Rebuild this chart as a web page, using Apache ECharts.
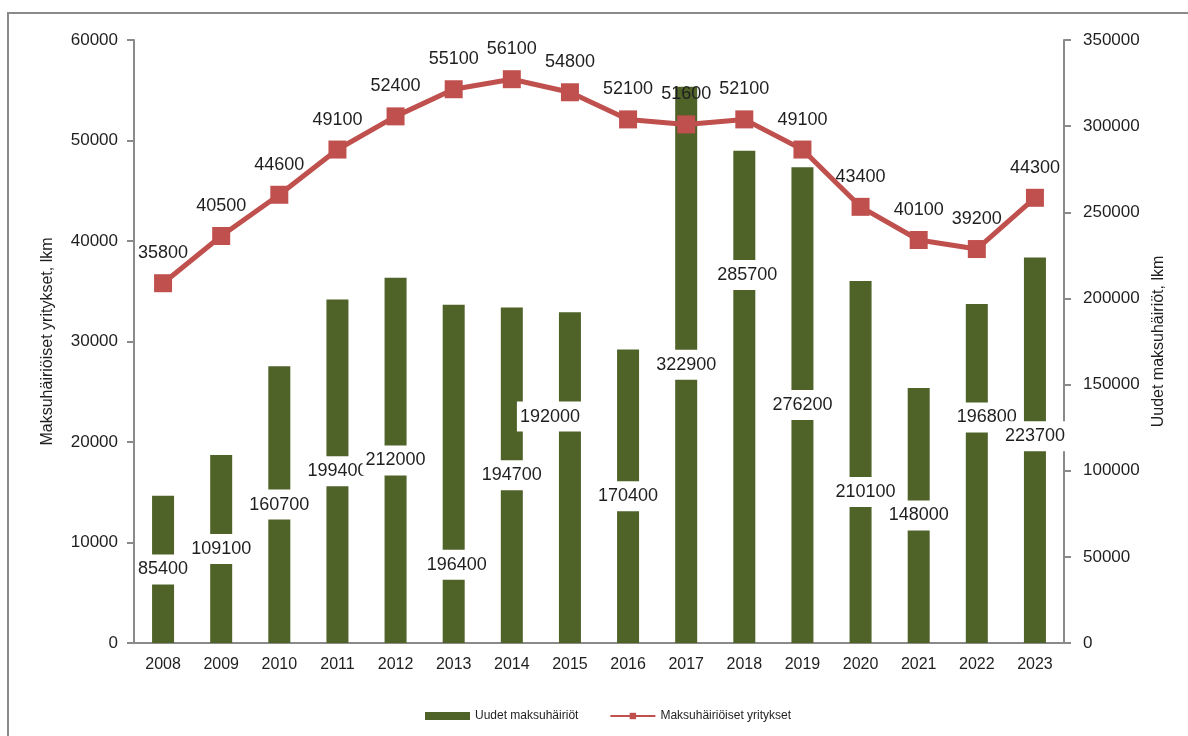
<!DOCTYPE html>
<html lang="fi">
<head>
<meta charset="UTF-8">
<title>Maksuhäiriöt</title>
<script src="https://cdn.jsdelivr.net/npm/echarts@6/dist/echarts.min.js"></script>
<style>
  body { margin: 0; background: #fff; overflow: hidden; }
  #chart { width: 1188px; height: 736px; }
</style>
</head>
<body>
<div id="chart"></div>
<script>
// vuodet
const years = ['2008', '2009', '2010', '2011', '2012', '2013', '2014', '2015',
  '2016', '2017', '2018', '2019', '2020', '2021', '2022', '2023']

// Uudet maksuhäiriöt (oikea akseli)
const newDefaults = [85400, 109100, 160700, 199400, 212000, 196400, 194700, 192000,
  170400, 322900, 285700, 276200, 210100, 148000, 196800, 223700]

// Maksuhäiriöiset yritykset (vasen akseli)
const firms = [35800, 40500, 44600, 49100, 52400, 55100, 56100, 54800,
  52100, 51600, 52100, 49100, 43400, 40100, 39200, 44300]

const leftTicks = { min: 0, max: 60000, interval: 10000 }
const rightTicks = { min: 0, max: 350000, interval: 50000 }

// muutama palkin selite on siirretty käsin alkuperäisessä kuvassa
const barLabelNudge = {
  '2013': [3, 91],
  '2015': [-20, -61],
  '2018': [3, -122],
  '2020': [5, 30],
  '2022': [10, -56],
  '2023': [0, -14]
}

const FONT = '"Liberation Sans", Arial, sans-serif'
const TEXT = '#1f1f1f'
const AXIS = '#8a8a8a'
const GREEN = '#4f6228'
const RED = '#c0504d'

const plain = v => String(v)

const barData = newDefaults.map((v, i) => {
  const n = barLabelNudge[years[i]]
  return n ? { value: v, label: { offset: n } } : v
})

const chart = echarts.init(document.getElementById('chart'), null, { renderer: 'canvas' })

chart.setOption({
  animation: false,
  textStyle: { fontFamily: FONT },
  graphic: [{
    type: 'rect',
    shape: { x: 8, y: 13, width: 1300, height: 900 },
    style: { fill: 'none', stroke: AXIS, lineWidth: 2 },
    silent: true
  }],
  grid: { left: 134, right: 124, top: 40, bottom: 93 },
  legend: {
    left: 420,
    top: 705,
    itemWidth: 45,
    itemHeight: 8,
    itemGap: 31,
    textStyle: { fontFamily: FONT, fontSize: 12, color: TEXT },
    data: [
      { name: 'Uudet maksuhäiriöt', icon: 'rect' },
      { name: 'Maksuhäiriöiset yritykset' }
    ]
  },
  xAxis: {
    type: 'category',
    data: years,
    axisLine: { lineStyle: { color: AXIS, width: 2 } },
    axisTick: { length: 7, lineStyle: { color: AXIS, width: 2 } },
    axisLabel: { margin: 14, fontSize: 16, color: TEXT, fontFamily: FONT }
  },
  yAxis: [{
    type: 'value',
    position: 'left',
    min: leftTicks.min,
    max: leftTicks.max,
    interval: leftTicks.interval,
    name: 'Maksuhäiriöiset yritykset, lkm',
    nameLocation: 'middle',
    nameGap: 78,
    nameRotate: 90,
    nameTextStyle: { fontSize: 16, color: TEXT, fontFamily: FONT },
    splitLine: { show: false },
    axisLine: { show: true, lineStyle: { color: AXIS, width: 2 } },
    axisTick: { show: true, length: 7, lineStyle: { color: AXIS, width: 2 } },
    axisLabel: { margin: 16, fontSize: 17, color: TEXT, fontFamily: FONT, formatter: plain }
  }, {
    type: 'value',
    position: 'right',
    min: rightTicks.min,
    max: rightTicks.max,
    interval: rightTicks.interval,
    name: 'Uudet maksuhäiriöt, lkm',
    nameLocation: 'middle',
    nameGap: 86,
    nameRotate: 90,
    nameTextStyle: { fontSize: 16, color: TEXT, fontFamily: FONT },
    splitLine: { show: false },
    axisLine: { show: true, lineStyle: { color: AXIS, width: 2 } },
    axisTick: { show: true, length: 7, lineStyle: { color: AXIS, width: 2 } },
    axisLabel: { margin: 19, fontSize: 17, color: TEXT, fontFamily: FONT, formatter: plain }
  }],
  series: [{
    name: 'Uudet maksuhäiriöt',
    type: 'bar',
    yAxisIndex: 1,
    barWidth: 22,
    data: barData,
    itemStyle: { color: GREEN },
    label: {
      show: true,
      position: 'inside',
      fontSize: 18,
      color: TEXT,
      fontFamily: FONT,
      backgroundColor: '#fff',
      padding: [7, 3, 5, 3]
    },
    z: 2
  }, {
    name: 'Maksuhäiriöiset yritykset',
    type: 'line',
    yAxisIndex: 0,
    data: firms,
    symbol: 'rect',
    symbolSize: 18,
    lineStyle: { color: RED, width: 5 },
    itemStyle: { color: RED },
    label: {
      show: true,
      position: 'top',
      distance: 12,
      fontSize: 18,
      color: TEXT,
      fontFamily: FONT
    },
    z: 3
  }]
})
</script>
</body>
</html>
